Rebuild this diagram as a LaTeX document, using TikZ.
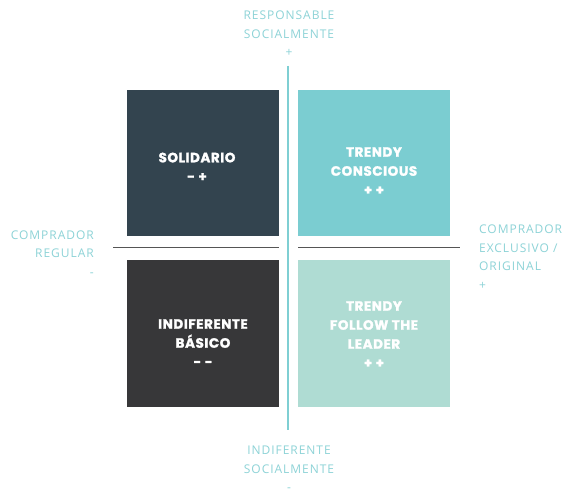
\documentclass[tikz,border=0pt]{standalone}
\usepackage{fontspec}
\setmainfont{Open Sans}[LetterSpace=8]
\newfontfamily\boxfont{Poppins}[LetterSpace=4,BoldFeatures={FakeBold=1.6}]
\definecolor{axistext}{HTML}{8DD3D7}
\definecolor{axisv}{HTML}{7FCFD3}
\definecolor{axish}{HTML}{555555}
\definecolor{boxa}{HTML}{33444F}
\definecolor{boxb}{HTML}{7BCDD1}
\definecolor{boxc}{HTML}{373739}
\definecolor{boxd}{HTML}{AFDCD3}
\begin{document}
\begin{tikzpicture}[x=1pt,y=-1pt,
  quad/.style={draw=none,minimum width=152pt,minimum height=146pt,inner sep=0pt},
  qlabel/.style={text=white,align=center,font=\boxfont\bfseries\fontsize{13.5}{19}\selectfont},
  axlabel/.style={text=axistext,font=\fontsize{12}{18.5}\selectfont,inner sep=0pt}]
\useasboundingbox (0,0) rectangle (563,489);
\fill[white] (0,0) rectangle (563,489);
\node[quad,fill=boxa] (q1) at (203,163.5) {};
\node[quad,fill=boxb] (q2) at (374,163.5) {};
\node[quad,fill=boxc,minimum height=147pt] (q3) at (203,333.5) {};
\node[quad,fill=boxd,minimum height=147pt] (q4) at (374,333.5) {};
\node[qlabel] (t1) at (197,167) {SOLIDARIO\\- +};
\node[qlabel] (t2) at (374,171) {TRENDY\\CONSCIOUS\\+ +};
\node[qlabel] (t3) at (203,343) {INDIFERENTE\\BÁSICO\\- -};
\node[qlabel] (t4) at (374,334.5) {TRENDY\\FOLLOW THE\\LEADER\\+ +};
\coordinate (vt) at (288,66);
\coordinate (vb) at (288,430);
\coordinate (hl) at (113,247.5);
\coordinate (hm1) at (279,247.5);
\coordinate (hm2) at (298,247.5);
\coordinate (hr) at (460,247.5);
\draw[axisv,line width=1.2pt] (vt) -- (vb);
\draw[axish,line width=1.2pt] (hl) -- (hm1);
\draw[axish,line width=1.2pt] (hm2) -- (hr);
\node[axlabel,align=center] (top) at (289,34) {RESPONSABLE\\SOCIALMENTE\\+};
\node[axlabel,align=right,anchor=east] (left) at (94,253.5) {COMPRADOR\\REGULAR\\-};
\node[axlabel,align=left,anchor=west] (right) at (479,257) {COMPRADOR\\EXCLUSIVO /\\ORIGINAL\\+};
\node[axlabel,align=center] (bot) at (289,469) {INDIFERENTE\\SOCIALMENTE\\-};
\end{tikzpicture}
\end{document}
